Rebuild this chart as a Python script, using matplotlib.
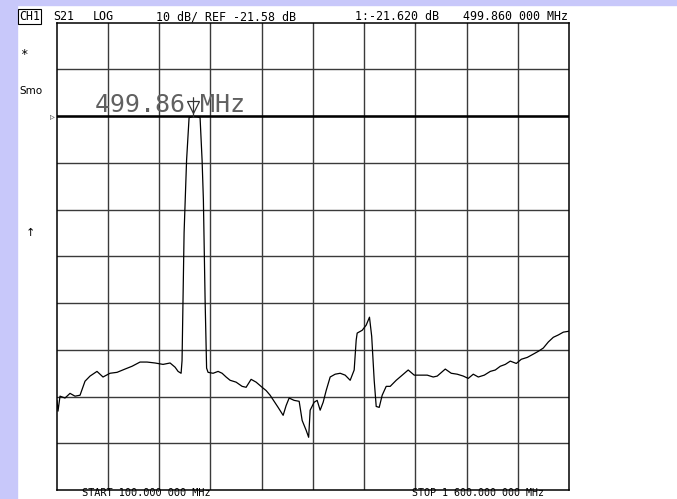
import matplotlib
matplotlib.use("Agg")
import matplotlib.pyplot as plt
import matplotlib.transforms as mtransforms
from matplotlib.patches import Rectangle

# S21 sweep, 100..1600 MHz, read in MHz / dB
freq_mhz = [100.0, 100.9, 103.8, 109.7, 124.3, 139.0, 153.6, 168.3, 182.9, 197.6,
            218.0, 235.6, 256.0, 276.7, 300.0, 320.6, 344.0, 364.5, 387.9, 411.4,
            432.0, 446.6, 455.4, 464.2, 467.0, 473.0, 480.3, 487.6, 499.86, 511.0,
            519.8, 525.7, 529.5, 534.5, 538.9, 543.2, 557.9, 572.6, 584.3, 596.0,
            607.7, 625.3, 642.9, 654.6, 669.2, 683.9, 701.4, 713.2, 724.9, 736.6,
            748.3, 763.0, 771.8, 780.6, 795.2, 809.9, 818.7, 830.4, 837.7, 842.1,
            853.8, 862.6, 871.4, 880.2, 889.0, 900.7, 915.3, 930.0, 944.6, 959.3,
            971.0, 976.9, 979.8, 994.5, 1006.2, 1015.8, 1022.3, 1029.6, 1035.5, 1044.3,
            1053.0, 1064.8, 1076.5, 1094.1, 1111.7, 1129.2, 1146.8, 1164.4, 1184.9, 1202.5,
            1214.2, 1237.7, 1255.2, 1272.8, 1290.4, 1305.0, 1319.7, 1334.4, 1352.0, 1369.5,
            1384.2, 1398.8, 1413.5, 1428.1, 1445.7, 1460.4, 1478.0, 1495.5, 1510.2, 1524.8,
            1539.5, 1554.1, 1568.8, 1583.4, 1600.0]
s21_db = [-82.4, -82.4, -84.7, -81.5, -81.9, -80.9, -81.5, -81.3, -78.3, -77.2,
          -76.2, -77.4, -76.6, -76.4, -75.7, -75.1, -74.2, -74.2, -74.4, -74.7,
          -74.4, -75.3, -76.2, -76.6, -73.9, -46.5, -31.0, -21.9, -21.62, -21.7,
          -21.9, -31.0, -39.5, -60.9, -75.5, -76.4, -76.6, -76.2, -76.6, -77.4,
          -78.1, -78.5, -79.4, -79.6, -77.9, -78.5, -79.6, -80.3, -81.3, -82.6,
          -83.9, -85.6, -83.5, -81.9, -82.4, -82.6, -86.7, -88.8, -90.3, -84.5,
          -82.8, -82.4, -84.5, -82.8, -80.3, -77.4, -76.8, -76.6, -77.0, -78.1,
          -75.9, -69.5, -68.0, -67.4, -66.3, -64.6, -68.7, -78.1, -83.7, -83.9,
          -81.3, -79.4, -79.4, -78.1, -77.0, -75.9, -77.0, -77.0, -77.0, -77.4,
          -77.2, -75.7, -76.6, -76.8, -77.2, -77.7, -76.8, -77.4, -77.0, -76.2,
          -75.9, -75.1, -74.7, -74.0, -74.5, -73.6, -73.2, -72.5, -71.9, -71.2,
          -69.9, -68.9, -68.4, -67.8, -67.6]

start_mhz, stop_mhz = 100.0, 1600.0
ref_db = -21.58
db_per_div = 10
marker_mhz = 499.86
marker_db = -21.62

W, H = 677, 499
fig = plt.figure(figsize=(W / 100, H / 100), dpi=100)
fig.patch.set_facecolor("white")

# lavender frame strips (top and left)
lav = "#c8c8fa"
fig.add_artist(Rectangle((0, 1 - 5 / H), 1, 5 / H, transform=fig.transFigure,
                         color=lav, zorder=0))
fig.add_artist(Rectangle((0, 0), 17 / W, 1, transform=fig.transFigure,
                         color=lav, zorder=0))


def fx(x):
    return x / W


def fy(y):
    return 1 - y / H


ax = fig.add_axes([fx(56.7), fy(490), (569 - 56.7) / W, (490 - 22.7) / H])
top_db = ref_db + 2 * db_per_div
ax.set_xlim(start_mhz, stop_mhz)
ax.set_ylim(top_db - 10 * db_per_div, top_db)
step = (stop_mhz - start_mhz) / 10
for i in range(1, 10):
    ax.axvline(start_mhz + i * step, color="#3a3a3a", lw=1.0, zorder=1)
    ax.axhline(top_db - i * db_per_div, color="#3a3a3a", lw=1.0, zorder=1)
ax.set_xticks([])
ax.set_yticks([])
for sp in ax.spines.values():
    sp.set_color("black")
    sp.set_linewidth(1.1)

# reference line
ax.axhline(ref_db, color="black", lw=1.8, zorder=2)

# trace
ax.plot(freq_mhz, s21_db, color="black", lw=0.9, zorder=3)

# marker symbol above the marker point
off = mtransforms.offset_copy(ax.transData, fig=fig, x=0, y=9, units="dots")
ax.plot([marker_mhz], [marker_db], transform=off, marker="v", ms=8,
        mfc="white", mec="#333333", mew=0.9, zorder=5, clip_on=False)
ax.plot([marker_mhz, marker_mhz], [marker_db, marker_db], transform=off,
        marker="|", ms=14, color="#333333", mew=0.8, zorder=5, clip_on=False)

ax.text(0.075, 0.809, "499.86 MHz", transform=ax.transAxes, fontsize=18,
        family="DejaVu Sans Mono", color="#606060", zorder=4)

# reference position marker on the left edge
fig.text(fx(50.5), fy(116), "\u25b9", fontsize=7, color="#555555",
         va="center", ha="left")

mono = "DejaVu Sans Mono"
hs = 8.4
fig.text(fx(19), fy(20), "CH1", fontsize=hs, family=mono, va="baseline",
         bbox=dict(boxstyle="square,pad=0.05", fc="white", ec="black", lw=0.8))
fig.text(fx(53), fy(20), "S21", fontsize=hs, family=mono, va="baseline")
fig.text(fx(93), fy(20), "LOG", fontsize=hs, family=mono, va="baseline")
fig.text(fx(156), fy(20), "10 dB/ REF -21.58 dB", fontsize=hs, family=mono,
         va="baseline")
fig.text(fx(355), fy(20), "1:-21.620 dB", fontsize=hs, family=mono,
         va="baseline")
fig.text(fx(463), fy(20), "499.860 000 MHz", fontsize=hs, family=mono,
         va="baseline")

fig.text(fx(20), fy(58), "*", fontsize=9, family=mono, va="baseline")
fig.text(fx(19), fy(93.5), "Smo", fontsize=7.5, family="DejaVu Sans",
         va="baseline")
fig.text(fx(25.5), fy(236), "\u2191", fontsize=8, family="DejaVu Sans",
         va="baseline")

fig.text(fx(81.5), fy(498.5), "START 100.000 000 MHz", fontsize=7.4,
         family=mono, va="bottom")
fig.text(fx(411.5), fy(498.5), "STOP 1 600.000 000 MHz", fontsize=7.2,
         family=mono, va="bottom")

fig.savefig("out.png", dpi=100)
